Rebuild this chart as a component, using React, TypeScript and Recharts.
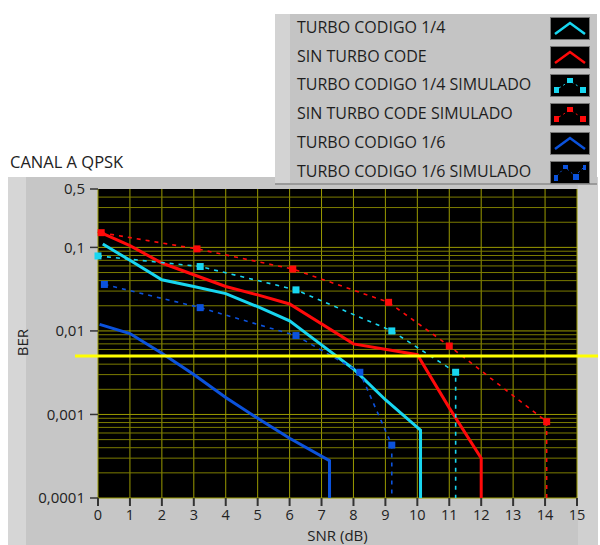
import { LineChart, Line, XAxis, YAxis, CartesianGrid, ReferenceLine } from 'recharts';

// SNR (dB) / BER readings
const turbo14Snr = [0.15, 1, 2, 3, 4, 5, 6, 7, 8, 9, 10.1, 10.1];
const turbo14Ber = [0.11, 0.07, 0.041, 0.034, 0.028, 0.0195, 0.0132, 0.0068, 0.0035, 0.0015, 0.00065, 0.0001];

const sinTurboSnr = [0, 1, 2, 3, 4, 5, 6, 8, 10, 11, 12, 12];
const sinTurboBer = [0.155, 0.105, 0.065, 0.047, 0.034, 0.027, 0.021, 0.007, 0.0052, 0.0012, 0.0003, 0.0001];

const turbo16Snr = [0.05, 1, 2, 3, 4, 5, 6, 7.25, 7.25];
const turbo16Ber = [0.012, 0.0093, 0.0054, 0.003, 0.0016, 0.0009, 0.00052, 0.00028, 0.0001];

const turbo14SimSnr = [0, 3.2, 6.2, 9.2, 11.2, 11.2];
const turbo14SimBer = [0.079, 0.059, 0.031, 0.01, 0.0032, 0.0001];

const sinTurboSimSnr = [0.1, 3.1, 6.1, 9.1, 11, 14.05, 14.05];
const sinTurboSimBer = [0.15, 0.096, 0.055, 0.022, 0.0066, 0.00082, 0.0001];

const turbo16SimSnr = [0.2, 3.2, 6.2, 8.2, 9.2, 9.2];
const turbo16SimBer = [0.036, 0.019, 0.0088, 0.0032, 0.00043, 0.0001];

const snrTicks = [0, 1, 2, 3, 4, 5, 6, 7, 8, 9, 10, 11, 12, 13, 14, 15];
const berTicks = [0.0001, 0.001, 0.01, 0.1, 0.5];
const berDecades = [0.0001, 0.001, 0.01, 0.1];
const gridMultipliers = [1, 2, 3, 4, 5, 6, 7, 8, 9];
const berThreshold = 0.005;

const CYAN = '#18d6f0';
const RED = '#ff0a0a';
const BLUE = '#0b52dc';
const FONT = '"Open Sans", "Noto Sans", sans-serif';

const toPoints = (xs: number[], ys: number[]) => xs.map((x, i) => ({ x, y: ys[i] }));

const gridLines = berDecades
  .flatMap((d) => gridMultipliers.map((m) => ({ v: +(d * m).toPrecision(2), major: m === 1 })))
  .filter((g) => g.v < 0.5);

const series = [
  { name: 'TURBO CODIGO 1/4', color: CYAN, sim: false, data: toPoints(turbo14Snr, turbo14Ber) },
  { name: 'SIN TURBO CODE', color: RED, sim: false, data: toPoints(sinTurboSnr, sinTurboBer) },
  { name: 'TURBO CODIGO 1/4 SIMULADO', color: CYAN, sim: true, data: toPoints(turbo14SimSnr, turbo14SimBer) },
  { name: 'SIN TURBO CODE SIMULADO', color: RED, sim: true, data: toPoints(sinTurboSimSnr, sinTurboSimBer) },
  { name: 'TURBO CODIGO 1/6', color: BLUE, sim: false, data: toPoints(turbo16Snr, turbo16Ber) },
  { name: 'TURBO CODIGO 1/6 SIMULADO', color: BLUE, sim: true, data: toPoints(turbo16SimSnr, turbo16SimBer) },
];

const squareDot = (color: string) => (props: any) => {
  const { cx, cy, payload, index } = props;
  if (payload.y <= 0.0001 || cx == null) return <g key={index} />;
  return <rect key={index} x={cx - 3.5} y={cy - 3.5} width={7} height={7} fill={color} />;
};

function Swatch({ color, sim, zig }: { color: string; sim: boolean; zig?: boolean }) {
  return (
    <svg width={38} height={21} style={{ display: 'block', background: '#000', border: '1px solid #777' }}>
      {!sim && <polyline points="4,16 19,5 34,16" fill="none" stroke={color} strokeWidth={2.5} />}
      {sim && !zig && (
        <>
          <polyline points="8,13 19,6 30,13" fill="none" stroke={color} strokeWidth={1} strokeDasharray="2 3" />
          <rect x={3} y={12} width={5} height={6} fill={color} />
          <rect x={16} y={3} width={6} height={5} fill={color} />
          <rect x={29} y={12} width={6} height={6} fill={color} />
        </>
      )}
      {sim && zig && (
        <>
          <polyline points="6,14 14,5 24,14 33,5" fill="none" stroke={color} strokeWidth={1} strokeDasharray="2 3" />
          <rect x={3} y={13} width={4} height={6} fill={color} />
          <rect x={12} y={3} width={5} height={4} fill={color} />
          <rect x={22} y={12} width={6} height={6} fill={color} />
          <rect x={32} y={3} width={3} height={5} fill={color} />
        </>
      )}
    </svg>
  );
}

function LegendBox() {
  return (
    <div
      style={{
        position: 'absolute',
        left: 275,
        top: 14,
        width: 322,
        height: 171,
        background: '#c4c4c4',
        borderBottom: '2px solid #9a9a9a',
        boxSizing: 'border-box',
      }}
    >
      <div style={{ position: 'absolute', left: 0, top: 0, width: 15, height: 169, background: '#d3d3d3' }} />
      {series.map((s, i) => (
        <div
          key={s.name}
          style={{ position: 'absolute', left: 22, top: 3 + i * 28.7, height: 21, width: 300, display: 'flex', alignItems: 'center' }}
        >
          <span style={{ fontSize: 16, color: '#1e1e1e', lineHeight: '21px', flex: 1, whiteSpace: 'nowrap' }}>{s.name}</span>
          <div style={{ position: 'absolute', left: 253, top: 0 }}>
            <Swatch color={s.color} sim={s.sim} zig={i === 5} />
          </div>
        </div>
      ))}
    </div>
  );
}

export default function App() {
  return (
    <div style={{ position: 'absolute', left: 0, top: 0, width: 600, height: 545, fontFamily: FONT }}>
      <div style={{ position: 'absolute', left: 8, top: 177, width: 590, height: 368, background: '#c6c6c6' }} />
      <div style={{ position: 'absolute', left: 8, top: 177, width: 18, height: 368, background: '#d6d6d6' }} />
      <div style={{ position: 'absolute', left: 578, top: 177, width: 20, height: 368, background: '#d0d0d0' }} />
      <div style={{ position: 'absolute', left: 10, top: 150, fontSize: 16.5, color: '#222' }}>CANAL A QPSK</div>
      <div style={{ position: 'absolute', left: 0, top: 0 }}>
        <LineChart width={600} height={545} margin={{ top: 189, right: 23, bottom: 0, left: 8 }}>
          <CartesianGrid vertical horizontal={false} stroke="#9a9a00" fill="#000" />
          {gridLines.map((g) => (
            <ReferenceLine key={g.v} y={g.v} stroke={g.major ? '#9a9a00' : '#7c7c00'} strokeWidth={1} />
          ))}
          <XAxis
            type="number"
            dataKey="x"
            domain={[0, 15]}
            ticks={snrTicks}
            allowDuplicatedCategory={false}
            height={47}
            axisLine={false}
            tickSize={8}
            tickMargin={4}
            tickLine={{ stroke: '#333', strokeWidth: 2 }}
            tick={{ fill: '#222', fontSize: 14.5, fontFamily: FONT }}
            label={(p: any) => {
              const vb = p.viewBox;
              return (
                <text x={vb.x + vb.width / 2} y={540.5} textAnchor="middle" fill="#222" fontSize={15} fontFamily={FONT}>
                  SNR (dB)
                </text>
              );
            }}
          />
          <YAxis
            type="number"
            dataKey="y"
            scale="log"
            domain={[0.0001, 0.5]}
            allowDataOverflow
            ticks={berTicks}
            width={90}
            axisLine={false}
            tickSize={8}
            tickMargin={5}
            tickLine={{ stroke: '#333', strokeWidth: 1.5 }}
            tick={{ fill: '#222', fontSize: 15, fontFamily: FONT }}
            tickFormatter={(v: number) => String(v).replace('.', ',')}
            label={(p: any) => {
              const vb = p.viewBox;
              const cy = vb.y + vb.height / 2 - 1;
              return (
                <text x={28} y={cy} transform={`rotate(-90, 28, ${cy})`} textAnchor="middle" fill="#222" fontSize={15} fontFamily={FONT}>
                  BER
                </text>
              );
            }}
          />
          {series.map((s) => (
            <Line
              key={s.name}
              data={s.data}
              dataKey="y"
              name={s.name}
              type="linear"
              stroke={s.color}
              strokeWidth={s.sim ? 1.6 : 3}
              strokeDasharray={s.sim ? '4 5' : undefined}
              dot={s.sim ? squareDot(s.color) : false}
              activeDot={false}
              isAnimationActive={false}
            />
          ))}
          <ReferenceLine
            segment={[
              { x: -0.72, y: berThreshold },
              { x: 15.66, y: berThreshold },
            ]}
            stroke="#ffff00"
            strokeWidth={3}
            ifOverflow="visible"
          />
        </LineChart>
      </div>
      <LegendBox />
    </div>
  );
}
